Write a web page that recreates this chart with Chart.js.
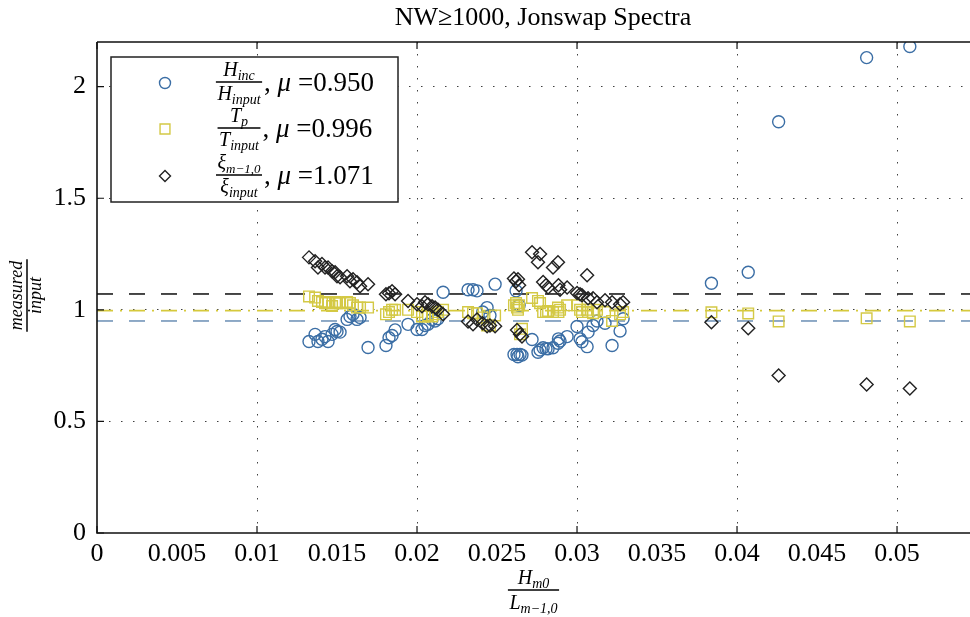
<!DOCTYPE html>
<html>
<head>
<meta charset="utf-8">
<script src="https://cdn.jsdelivr.net/npm/chart.js@4.4.0/dist/chart.umd.min.js"></script>
<style>
html, body { margin: 0; padding: 0; background: #fff; overflow: hidden; }
canvas { display: block; }
</style>
</head>
<body>
<canvas id="c" width="970" height="617"></canvas>
<script>
// wave steepness H_m0 / L_m-1,0 of every test
const steepness = [
  0.01325, 0.01363, 0.01381, 0.01406, 0.01425, 0.01444, 0.01469, 0.01488, 0.0150, 0.01519,
  0.01563, 0.01581, 0.0160, 0.01625, 0.01644, 0.01694, 0.01806, 0.01825, 0.01844, 0.01863,
  0.01944, 0.0200, 0.02031, 0.0205, 0.02069, 0.02094, 0.02113, 0.02131, 0.02163, 0.02319,
  0.0235, 0.02375, 0.0241, 0.02438, 0.02456, 0.02488, 0.02606, 0.02619, 0.02631, 0.02638,
  0.02644, 0.02656, 0.02625, 0.02719, 0.02756, 0.02769, 0.02788, 0.02806, 0.02819, 0.0285,
  0.02881, 0.02884, 0.02894, 0.02938, 0.0300, 0.03019, 0.03031, 0.03063, 0.03069, 0.031,
  0.03125, 0.03175, 0.03219, 0.03269, 0.03288, 0.0384, 0.0407, 0.0426, 0.0481, 0.0508
]
// H_inc / H_input
const hRatio = [
  0.858, 0.890, 0.858, 0.868, 0.880, 0.858, 0.890, 0.912, 0.903, 0.900,
  0.957, 0.970, 0.980, 0.957, 0.966, 0.831, 0.840, 0.875, 0.885, 0.910,
  0.935, 0.912, 0.912, 0.930, 0.935, 0.957, 0.950, 0.960, 1.079, 1.090,
  1.090, 1.085, 0.990, 1.010, 0.975, 1.115, 0.800, 1.085, 0.790, 1.020,
  0.800, 0.797, 0.800, 0.867, 0.810, 0.820, 0.830, 0.826, 0.825, 0.830,
  0.850, 0.870, 0.860, 0.880, 0.925, 0.870, 0.857, 0.835, 0.900, 0.930,
  0.950, 0.940, 0.840, 0.905, 0.960, 1.119, 1.168, 1.843, 2.130, 2.180
]
// T_p / T_input
const tRatio = [
  1.060, 1.055, 1.040, 1.035, 1.030, 1.035, 1.017, 1.035, 1.030, 1.030,
  1.035, 1.030, 1.020, 1.010, 1.010, 1.010, 0.980, 0.990, 1.000, 1.000,
  1.000, 0.990, 0.970, 0.970, 0.975, 0.970, 0.980, 0.990, 1.000, 0.990,
  0.985, 0.985, 0.966, 0.930, 0.930, 0.975, 1.020, 1.030, 1.000, 1.020,
  0.890, 0.915, 1.010, 1.053, 1.040, 1.030, 0.990, 0.990, 0.995, 0.990,
  1.010, 0.990, 1.000, 1.020, 1.020, 1.000, 0.990, 1.000, 0.990, 0.985,
  1.000, 0.990, 0.950, 0.980, 0.990, 0.989, 0.984, 0.948, 0.962, 0.948
]
// xi_m-1,0 / xi_input
const xiRatio = [
  1.235, 1.218, 1.190, 1.205, 1.190, 1.190, 1.173, 1.168, 1.150, 1.146,
  1.150, 1.128, 1.137, 1.124, 1.106, 1.115, 1.070, 1.074, 1.083, 1.070,
  1.040, 1.025, 1.016, 1.034, 1.025, 1.016, 1.010, 1.000, 0.980, 0.948,
  0.935, 0.957, 0.940, 0.926, 0.930, 0.926, 1.140, 1.128, 1.137, 1.110,
  0.890, 0.880, 0.910, 1.258, 1.213, 1.250, 1.125, 1.110, 1.100, 1.190,
  1.213, 1.110, 1.090, 1.100, 1.075, 1.070, 1.065, 1.155, 1.052, 1.052,
  1.034, 1.043, 1.034, 1.025, 1.034, 0.944, 0.917, 0.706, 0.665, 0.647
]
const means = [0.950, 0.996, 1.071]
const colors = ['#3b6ea5', '#d4c945', '#222222']
const lineColors = ['#7c9cbd', '#d6c93c', '#2a2a2a']
const xMax = 0.05456
const titleText = 'NW\u22651000, Jonswap Spectra'

const serif = "'Liberation Serif', 'DejaVu Serif', serif"

function pts(arr) { return steepness.map((x, i) => ({ x: x, y: arr[i] })) }
function meanLine(m) { return [{ x: 0, y: m }, { x: xMax, y: m }] }

// draw a run of math pieces: [text, size, dy, italic]
function runWidth(ctx, parts) {
  let w = 0
  parts.forEach(p => { ctx.font = (p[3] ? 'italic ' : '') + p[1] + 'px ' + serif; w += ctx.measureText(p[0]).width })
  return w
}
function drawRun(ctx, parts, x, y) {
  parts.forEach(p => {
    ctx.font = (p[3] ? 'italic ' : '') + p[1] + 'px ' + serif
    ctx.fillText(p[0], x, y + p[2])
    x += ctx.measureText(p[0]).width
  })
  return x
}
function drawFrac(ctx, num, den, cx, ly, gapUp, gapDown) {
  const wn = runWidth(ctx, num), wd = runWidth(ctx, den)
  const w = Math.max(wn, wd) + 3
  ctx.textAlign = 'left'
  ctx.textBaseline = 'alphabetic'
  drawRun(ctx, num, cx - wn / 2, ly - gapUp)
  drawRun(ctx, den, cx - wd / 2, ly + gapDown)
  ctx.lineWidth = 1.5
  ctx.beginPath()
  ctx.moveTo(cx - w / 2, ly); ctx.lineTo(cx + w / 2, ly)
  ctx.stroke()
  return cx + w / 2
}

const decor = {
  id: 'decor',
  afterDraw(chart) {
    const ctx = chart.ctx, a = chart.chartArea
    const xs = chart.scales.x, ys = chart.scales.y
    ctx.save()
    ctx.strokeStyle = '#111'
    ctx.fillStyle = '#000'
    // title
    ctx.font = '26px ' + serif
    ctx.textAlign = 'center'
    ctx.textBaseline = 'middle'
    ctx.fillText(titleText, 543, 18)
    // spines
    ctx.lineWidth = 1.6
    ctx.beginPath()
    ctx.moveTo(a.left, a.top); ctx.lineTo(a.right, a.top)
    ctx.moveTo(a.left, a.top); ctx.lineTo(a.left, a.bottom); ctx.lineTo(a.right, a.bottom)
    ctx.stroke()
    // inward ticks
    ctx.lineWidth = 1.2
    ctx.beginPath()
    xs.ticks.forEach(t => {
      if (Math.abs(t.value * 100 - Math.round(t.value * 100)) > 1e-6) return
      const px = xs.getPixelForValue(t.value)
      ctx.moveTo(px, a.bottom); ctx.lineTo(px, a.bottom - 7)
      ctx.moveTo(px, a.top); ctx.lineTo(px, a.top + 7)
    })
    ys.ticks.forEach(t => {
      const py = ys.getPixelForValue(t.value)
      ctx.moveTo(a.left, py); ctx.lineTo(a.left + 7, py)
    })
    ctx.stroke()

    // axis titles
    ctx.strokeStyle = '#000'
    drawFrac(ctx, [['H', 20, 0, true], ['m0', 14, 4, true]],
      [['L', 20, 0, true], ['m\u22121,0', 14, 4, true]], (a.left + a.right) / 2, 590, 6, 19)
    ctx.save()
    ctx.translate(27, (a.top + a.bottom) / 2 + 8)
    ctx.rotate(-Math.PI / 2)
    drawFrac(ctx, [['measured', 18, 0, true]], [['input', 18, 0, true]], 0, 0, 5, 14)
    ctx.restore()

    // legend
    const bx = 111, by = 57, bw = 287, bh = 145
    ctx.fillStyle = '#fff'
    ctx.fillRect(bx, by, bw, bh)
    ctx.lineWidth = 1.5
    ctx.strokeStyle = '#222'
    ctx.strokeRect(bx, by, bw, bh)
    const rows = [
      { y: 82, num: [['H', 20, 0, true], ['inc', 14, 4, true]], den: [['H', 20, 0, true], ['input', 14, 4, true]], style: 'circle' },
      { y: 128, num: [['T', 20, 0, true], ['p', 14, 4, true]], den: [['T', 20, 0, true], ['input', 14, 4, true]], style: 'rect' },
      { y: 175, num: [['\u03be', 20, 0, true], ['m\u22121,0', 13, 4, true]], den: [['\u03be', 20, 0, true], ['input', 14, 4, true]], style: 'rectRot' }
    ]
    rows.forEach((r, i) => {
      ctx.strokeStyle = colors[i]
      ctx.fillStyle = 'rgba(0,0,0,0)'
      ctx.lineWidth = 1.4
      Chart.helpers.drawPoint(ctx, { pointStyle: r.style, radius: i === 1 ? 7 : 5.5, borderWidth: 1.4 }, 165, r.y + 1)
      ctx.fillStyle = '#000'
      ctx.strokeStyle = '#000'
      const end = drawFrac(ctx, r.num, r.den, 239, r.y, 6, 18)
      ctx.textAlign = 'left'
      drawRun(ctx, [[',', 27, 0, false], [' \u03bc', 27, 0, true], [' =' + means[i].toFixed(3), 27, 0, false]], end + 2, r.y + 9)
    })
    ctx.restore()
  }
}

new Chart(document.getElementById('c'), {
  type: 'scatter',
  data: {
    datasets: [
      { label: 'H', data: pts(hRatio), pointStyle: 'circle', pointRadius: 6, pointHoverRadius: 6,
        borderColor: colors[0], backgroundColor: 'rgba(0,0,0,0)', borderWidth: 1.4, order: 3 },
      { label: 'T', data: pts(tRatio), pointStyle: 'rect', pointRadius: 7.5, pointHoverRadius: 7.5,
        borderColor: colors[1], backgroundColor: 'rgba(0,0,0,0)', borderWidth: 1.4, order: 2 },
      { label: 'xi', data: pts(xiRatio), pointStyle: 'rectRot', pointRadius: 6.5, pointHoverRadius: 6.5,
        borderColor: colors[2], backgroundColor: 'rgba(0,0,0,0)', borderWidth: 1.4, order: 1 },
      { type: 'line', data: meanLine(means[0]), borderColor: lineColors[0], borderWidth: 1.7,
        borderDash: [16, 16], pointRadius: 0, order: 6 },
      { type: 'line', data: meanLine(means[1]), borderColor: lineColors[1], borderWidth: 1.7,
        borderDash: [16, 7, 2, 7], pointRadius: 0, order: 5 },
      { type: 'line', data: meanLine(means[2]), borderColor: lineColors[2], borderWidth: 1.7,
        borderDash: [16, 16], pointRadius: 0, order: 4 }
    ]
  },
  options: {
    responsive: false,
    animation: false,
    layout: { autoPadding: false, padding: { top: 42, right: 0, bottom: 0, left: 0 } },
    plugins: {
      legend: { display: false },
      tooltip: { enabled: false },
      title: { display: false }
    },
    scales: {
      x: {
        type: 'linear', min: 0, max: xMax,
        afterFit(s) { s.height = 84; s.paddingLeft = 0; s.paddingRight = 0 },
        border: { display: false, dash: [1.5, 10.5] },
        grid: {
          drawTicks: false,
          lineWidth: 1,
          color: c => (c.tick && c.tick.value > 0 && Math.abs(c.tick.value * 100 - Math.round(c.tick.value * 100)) < 1e-6) ? 'rgba(0,0,0,0.75)' : 'rgba(0,0,0,0)'
        },
        ticks: {
          stepSize: 0.005, includeBounds: false, maxRotation: 0, autoSkip: false,
          color: '#000', padding: 6, font: { family: serif, size: 26 },
          callback: v => String(Number(v.toFixed(3)))
        }
      },
      y: {
        min: 0, max: 2.2,
        afterFit(s) { s.width = 97; s.paddingTop = 0; s.paddingBottom = 0 },
        border: { display: false, dash: [1.5, 10.5] },
        grid: {
          drawTicks: false,
          lineWidth: 1,
          color: c => (c.tick && c.tick.value > 0) ? 'rgba(0,0,0,0.75)' : 'rgba(0,0,0,0)'
        },
        ticks: {
          stepSize: 0.5, includeBounds: false,
          color: '#000', padding: 11, font: { family: serif, size: 26 },
          callback: v => String(v)
        }
      }
    }
  },
  plugins: [decor]
})
</script>
</body>
</html>
